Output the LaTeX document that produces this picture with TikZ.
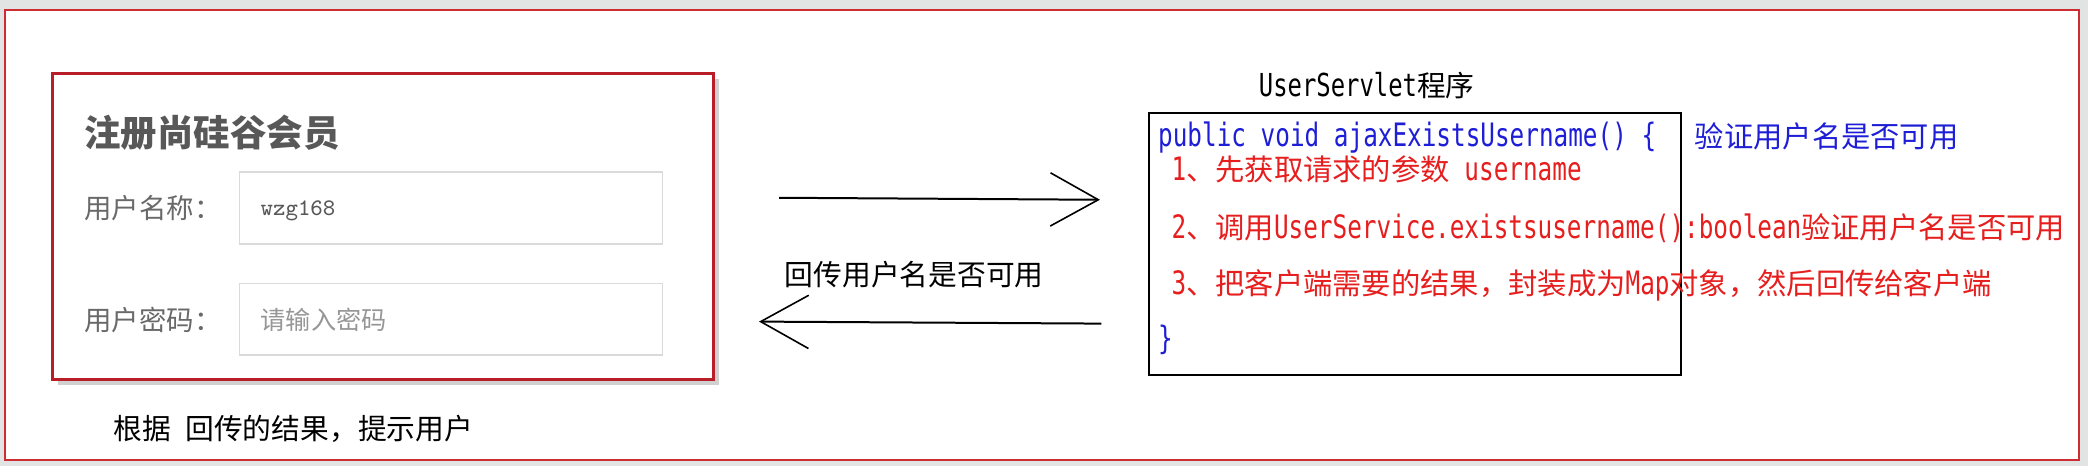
\documentclass[tikz,border=0pt]{standalone}
\usepackage{fontspec}
\setmainfont{Noto Sans CJK SC}
\newfontfamily\cjk{Noto Sans CJK SC}
\newfontfamily\mono[Scale=1.1,FakeStretch=0.755]{DejaVu Sans Mono}
\usetikzlibrary{arrows.meta,shadows}

\definecolor{frameRed}{RGB}{205,45,50}
\definecolor{boxRed}{RGB}{185,30,40}
\definecolor{codeBlue}{RGB}{30,30,215}
\definecolor{codeRed}{RGB}{230,30,30}
\definecolor{titleGray}{RGB}{88,88,88}
\definecolor{labelGray}{RGB}{105,105,105}
\definecolor{hintGray}{RGB}{150,150,150}
\definecolor{inputLine}{RGB}{218,218,218}
\definecolor{pageBack}{RGB}{226,228,228}

\newcommand\zh[1]{{\cjk #1}}

\tikzset{every picture/.style={line width=0.75pt}}
\tikzset{
  plainText/.style={anchor=west, inner sep=0pt, font=\fontsize{10.8pt}{13pt}\selectfont},
  titleText/.style={plainText, text=titleGray, font=\fontsize{13.7pt}{16pt}\selectfont\bfseries},
  labelText/.style={plainText, text=labelGray, font=\fontsize{10.3pt}{12pt}\selectfont},
  inputText/.style={plainText, text=titleGray, font=\fontsize{8.9pt}{11pt}\selectfont\ttfamily},
  hintText/.style={plainText, text=hintGray, font=\fontsize{9.45pt}{11pt}\selectfont},
  inputBox/.style={draw=inputLine, line width=0.6pt},
  codeBlueText/.style={plainText, text=codeBlue, font=\fontsize{11pt}{13pt}\selectfont\mono},
  codeRedText/.style={plainText, text=codeRed, font=\fontsize{11pt}{13pt}\selectfont\mono},
  openArrow/.style={line width=0.75pt, -{Straight Barb[length=18pt,width=20pt,line width=0.6pt]}}
}

\begin{document}
\begin{tikzpicture}[x=0.5pt,y=0.5pt,yscale=-1,xscale=1]
\useasboundingbox (0,0) rectangle (1568,350);

% page and outer frame
\fill[pageBack] (0,0) rectangle (1568,350);
\draw[frameRed, fill=white] (3.75,7.5) rectangle (1561.3,345.5);

% register form
\draw[boxRed, line width=1pt, fill=white, drop shadow={shadow xshift=2pt, shadow yshift=-2pt, opacity=0.18, fill=black}] (39.3,55) rectangle (536,285);
\node[titleText] (formTitle) at (62.6,100) {注册尚硅谷会员};
\node[labelText] (nameLabel) at (62.6,156) {用户名称：};
\draw[inputBox] (180,129) rectangle (497.6,183);
\node[inputText] (nameValue) at (195,158) {wzg168};
\node[labelText] (pwdLabel) at (62.6,240) {用户密码：};
\draw[inputBox] (180,213) rectangle (497.6,266.6);
\node[hintText] (pwdHint) at (195,240) {请输入密码};
\node[plainText] (tipNote) at (84.5,322) {根据\hspace{0.5em}回传的结果，提示用户};

% request and response
\coordinate (reqStart) at (585,148.5);
\coordinate (reqEnd) at (826,150);
\draw[openArrow] (reqStart) -- (reqEnd);
\node[plainText] (respLabel) at (588.6,206.5) {回传用户名是否可用};
\coordinate (respStart) at (827,243);
\coordinate (respEnd) at (570,241.5);
\draw[openArrow] (respStart) -- (respEnd);

% servlet code
\node[plainText] (servletTitle) at (944.6,64) {{\mono UserServlet}程序};
\draw[line width=0.8pt] (863,85) rectangle (1262.3,281.6);
\node[codeBlueText] (methodHead) at (869,103) {public void ajaxExistsUsername() \{};
\node[codeBlueText] (checkNote) at (1272,102.6) {\zh{验证用户名是否可用}};
\node[codeRedText] (stepOne) at (879,127.5) {1\zh{、先获取请求的参数} username};
\node[codeRedText] (stepTwo) at (879,171) {2\zh{、调用}UserService.existsusername():boolean\zh{验证用户名是否可用}};
\node[codeRedText] (stepThree) at (879,214) {3\zh{、把客户端需要的结果，封装成为}Map\zh{对象，然后回传给客户端}};
\node[codeBlueText] (methodEnd) at (869,255) {\}};

\end{tikzpicture}
\end{document}
